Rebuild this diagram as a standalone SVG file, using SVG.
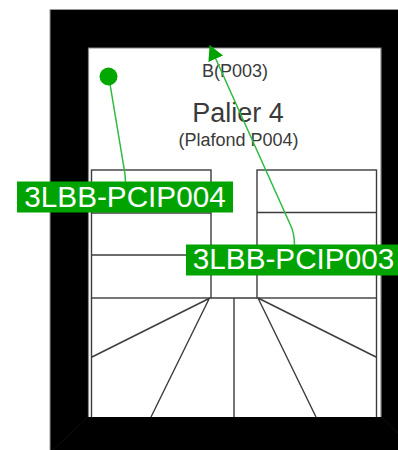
<svg xmlns="http://www.w3.org/2000/svg" width="398" height="450" viewBox="0 0 398 450">
<style>
.st{fill:none;stroke:#3c3c3c;stroke-width:1.4}
.t{font-family:"Liberation Sans",Arial,sans-serif;text-anchor:middle;fill:#3a3a3a}
.lb{fill:#00a300}
.lt{font-family:"Liberation Sans",Arial,sans-serif;font-size:29.700px;fill:#fff;text-anchor:middle}
.c{fill:none;stroke:#2dbb40;stroke-width:1.5}
</style>
<defs><marker id="a" markerUnits="userSpaceOnUse" markerWidth="18" markerHeight="18" refX="14" refY="8" orient="auto"><path d="M0 0L15 8L0 16Z" fill="#00a300"/></marker></defs>
<g id="walls">
<path d="M398 9.500H50V450H398Z" fill="#000"/>
<path d="M398 9.500H50V450" fill="none" stroke="#999" stroke-width="1"/>
<rect x="88.500" y="48" width="292.500" height="369" fill="#fff"/>
<path d="M88.500 417V48H381V417" fill="none" stroke="#888" stroke-width="1.200"/>
<path d="M88 417L53 450M381 417L398 433" stroke="#101010" stroke-width="1" fill="none"/>
</g>
<g id="stairs">
<rect class="st" x="91.500" y="170" width="119.500" height="128"/>
<rect class="st" x="257" y="170" width="119.500" height="128"/>
<path class="st" d="M91.500 255H211M91.500 213H211M257 212.500H376.500M257 255H376.500M211 298H257"/>
<path class="st" d="M91.500 298V417M376.500 298V417M210 298L92 357M209.500 298L151 417M234 298V417M258 298L316 417M258 298L376 357"/>
</g>
<g id="labels">
<text class="t" x="235" y="77" font-size="18">B(P003)</text>
<text class="t" x="238" y="122" font-size="27">Palier 4</text>
<text class="t" x="238.500" y="146" font-size="18">(Plafond P004)</text>
</g>
<g id="connectors">
<path class="c" d="M109 78L124 168Q125.500 176 125.500 182"/>
<path class="c" d="M294.500 245C294.500 235 292 228 290 224L210 46" marker-end="url(#a)"/>
</g>
<g id="p004">
<circle cx="108.500" cy="76.500" r="9" fill="#00a800"/>
<rect class="lb" x="17" y="181.500" width="216" height="31"/>
<text class="lt" x="125" y="207">3LBB-PCIP004</text>
</g>
<g id="p003">
<rect class="lb" x="186" y="244.500" width="212" height="31"/>
<text class="lt" x="293.500" y="268.500">3LBB-PCIP003</text>
</g>
</svg>
